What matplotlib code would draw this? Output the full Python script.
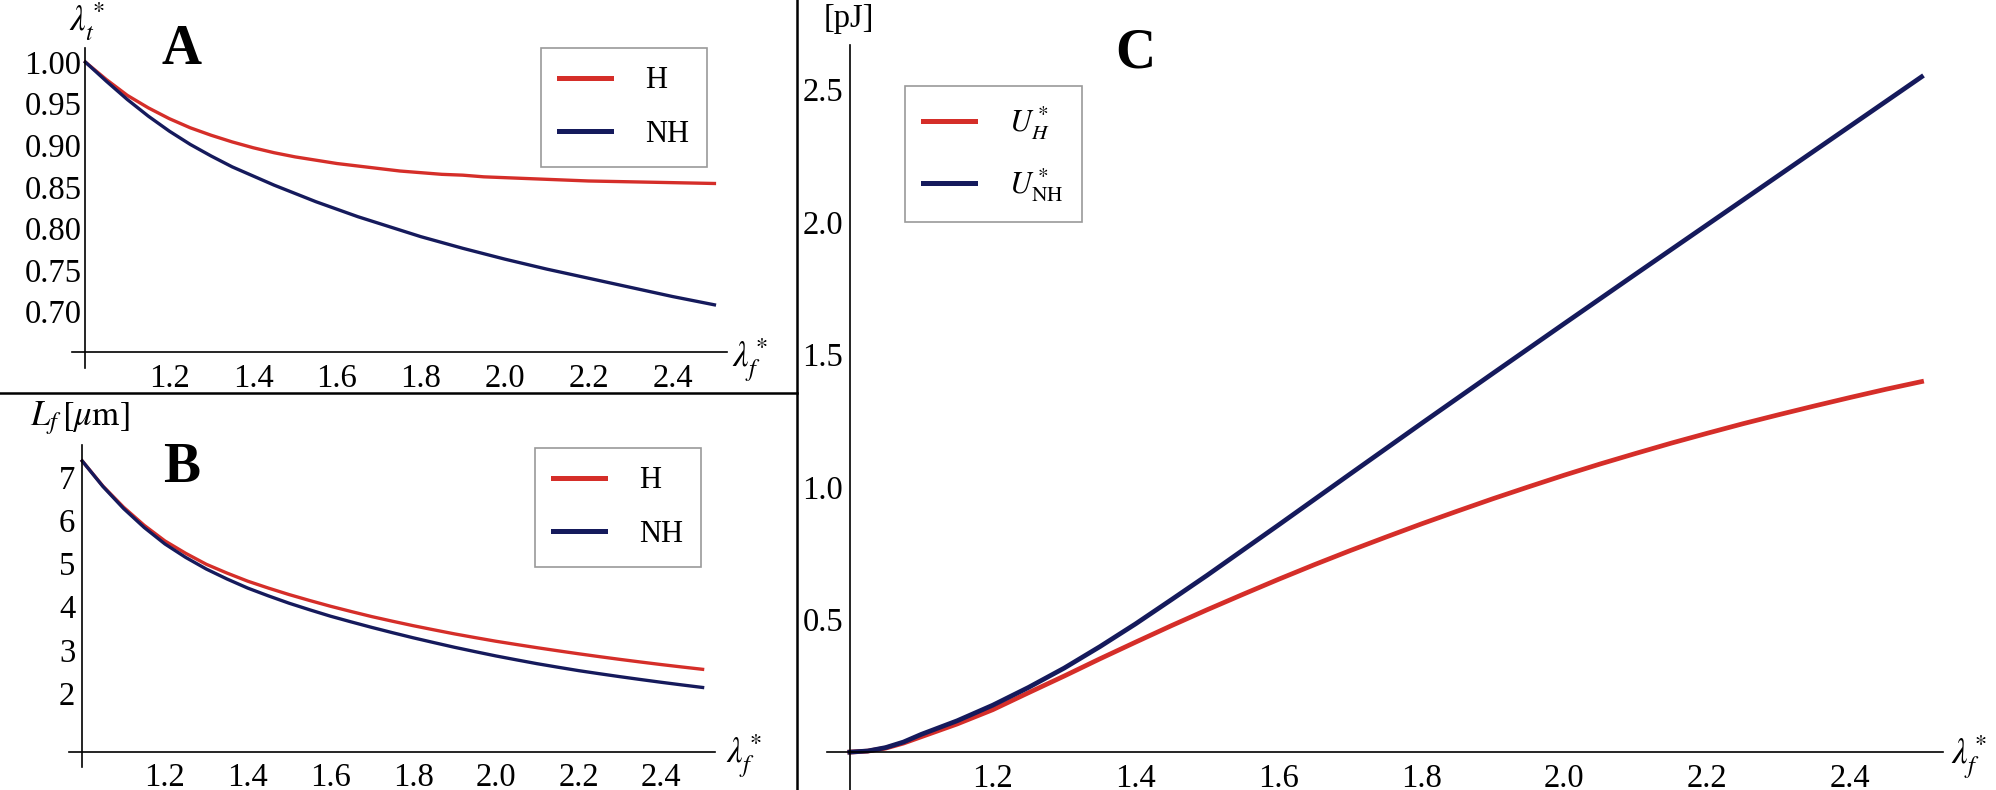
import matplotlib
matplotlib.use('Agg')
import matplotlib.pyplot as plt
from matplotlib.lines import Line2D

plt.rcParams['font.family'] = ['Liberation Serif', 'DejaVu Serif']
plt.rcParams['mathtext.fontset'] = 'stix'

# values, every 0.05 in lambda_f*
lam = [1.00, 1.05, 1.10, 1.15, 1.20, 1.25, 1.30, 1.35, 1.40, 1.45, 1.50,
       1.55, 1.60, 1.65, 1.70, 1.75, 1.80, 1.85, 1.90, 1.95, 2.00,
       2.05, 2.10, 2.15, 2.20, 2.25, 2.30, 2.35, 2.40, 2.45, 2.50]

# panel A: lambda_t*
lt_H = [1.000, 0.979, 0.960, 0.945, 0.932, 0.921, 0.912, 0.904, 0.897, 0.891, 0.886,
        0.882, 0.878, 0.875, 0.872, 0.869, 0.867, 0.865, 0.864, 0.862, 0.861,
        0.860, 0.859, 0.858, 0.857, 0.8565, 0.856, 0.8555, 0.855, 0.8545, 0.854]
lt_NH = [1.000, 0.977, 0.955, 0.935, 0.917, 0.901, 0.887, 0.874, 0.863, 0.852, 0.842,
         0.832, 0.823, 0.814, 0.806, 0.798, 0.790, 0.783, 0.776, 0.7695, 0.763,
         0.757, 0.751, 0.7455, 0.740, 0.7345, 0.729, 0.7235, 0.718, 0.713, 0.708]

# panel B: L_f [um]
Lf_H = [7.37, 6.79, 6.30, 5.88, 5.52, 5.235, 4.98, 4.777, 4.59, 4.43, 4.28,
        4.142, 4.01, 3.888, 3.77, 3.663, 3.56, 3.464, 3.37, 3.284, 3.20,
        3.124, 3.05, 2.979, 2.91, 2.844, 2.78, 2.719, 2.66, 2.604, 2.55]
Lf_NH = [7.37, 6.78, 6.27, 5.83, 5.45, 5.14, 4.87, 4.64, 4.43, 4.25, 4.08,
         3.927, 3.78, 3.648, 3.52, 3.398, 3.28, 3.169, 3.06, 2.959, 2.86,
         2.769, 2.68, 2.599, 2.52, 2.449, 2.38, 2.314, 2.25, 2.189, 2.13]

# panel C: energy [pJ], denser near the origin where the curves bend
lam_c = [1.00, 1.025, 1.05, 1.075, 1.10, 1.15, 1.20, 1.25, 1.30, 1.35, 1.40, 1.45, 1.50,
         1.55, 1.60, 1.65, 1.70, 1.75, 1.80, 1.85, 1.90, 1.95, 2.00,
         2.05, 2.10, 2.15, 2.20, 2.25, 2.30, 2.35, 2.40, 2.45, 2.50]
U_H = [0.0, 0.0037, 0.015, 0.034, 0.058, 0.106, 0.160, 0.224, 0.287, 0.352, 0.415, 0.477, 0.537,
       0.595, 0.652, 0.707, 0.760, 0.811, 0.861, 0.909, 0.956, 1.001, 1.045,
       1.087, 1.127, 1.166, 1.203, 1.239, 1.273, 1.306, 1.338, 1.369, 1.398]
U_NH = [0.0, 0.0042, 0.017, 0.038, 0.067, 0.118, 0.177, 0.244, 0.317, 0.398, 0.484, 0.575, 0.667,
        0.762, 0.857, 0.953, 1.049, 1.1445, 1.240, 1.3345, 1.429, 1.523, 1.617,
        1.7105, 1.804, 1.897, 1.990, 2.083, 2.176, 2.269, 2.362, 2.455, 2.548]

x_ticks = [1.2, 1.4, 1.6, 1.8, 2.0, 2.2, 2.4]
x_labels = ['1.2', '1.4', '1.6', '1.8', '2.0', '2.2', '2.4']
a_ticks = [0.70, 0.75, 0.80, 0.85, 0.90, 0.95, 1.00]
a_labels = ['0.70', '0.75', '0.80', '0.85', '0.90', '0.95', '1.00']
b_ticks = [2, 3, 4, 5, 6, 7]
b_labels = ['2', '3', '4', '5', '6', '7']
c_ticks = [0.5, 1.0, 1.5, 2.0, 2.5]
c_labels = ['0.5', '1.0', '1.5', '2.0', '2.5']

RED = '#d52e29'
NAVY = '#151a5c'
FS = 23.5

W, H = 1996, 790


def fx(px):
    return px / W


def fy(py):
    return 1 - py / H


def rect(l, t, r, b):
    return [l / W, 1 - b / H, (r - l) / W, (b - t) / H]


def setup(ax, ylim, y0, yticks, ylabels, ypad):
    ax.set_xlim(0.968, 2.53)
    ax.set_ylim(ylim)
    for s in ['top', 'right']:
        ax.spines[s].set_visible(False)
    ax.spines['left'].set_position(('data', 1.0))
    ax.spines['bottom'].set_position(('data', y0))
    ax.spines['left'].set_linewidth(1.2)
    ax.spines['bottom'].set_linewidth(1.2)
    ax.set_xticks(x_ticks)
    ax.set_xticklabels(x_labels)
    ax.set_yticks(yticks)
    ax.set_yticklabels(ylabels)
    ax.tick_params(axis='x', length=0, pad=8, labelsize=FS)
    ax.tick_params(axis='y', length=0, pad=ypad, labelsize=FS)
    ax.patch.set_alpha(0)


def legend(ax, left, top, labels):
    leg = ax.legend(labels, loc='upper left', bbox_to_anchor=(fx(left), fy(top)),
                    bbox_transform=fig.transFigure, borderaxespad=0, fancybox=False,
                    edgecolor='#9a9a9a', framealpha=1, fontsize=FS - 1.5, handlelength=1.7,
                    handletextpad=1.1, labelspacing=0.8, borderpad=0.6)
    leg.get_frame().set_linewidth(1.2)
    for h in leg.get_lines():
        h.set_linewidth(3.6)


fig = plt.figure(figsize=(19.96, 7.9), dpi=100)

# A
axA = fig.add_axes(rect(72, 48, 727, 368))
axA.plot(lam, lt_H, color=RED, lw=2.4)
axA.plot(lam, lt_NH, color=NAVY, lw=2.4)
setup(axA, (0.632, 1.017), 0.651, a_ticks, a_labels, 3)
legend(axA, 541, 48, ['H', 'NH'])
fig.text(fx(87), fy(22), r'$\lambda_t^*$', ha='center', va='center', fontsize=25)
fig.text(fx(750), fy(360), r'$\lambda_f^*$', ha='center', va='center', fontsize=25)
fig.text(fx(182), fy(50), 'A', ha='center', va='center', fontsize=40, fontweight='bold')

# B
axB = fig.add_axes(rect(69, 445, 715, 767))
axB.plot(lam, Lf_H, color=RED, lw=2.4)
axB.plot(lam, Lf_NH, color=NAVY, lw=2.4)
setup(axB, (0.29, 7.74), 0.64, b_ticks, b_labels, 5)
legend(axB, 535, 448, ['H', 'NH'])
fig.text(fx(80), fy(418), r'$L_f\,[\mu\mathrm{m}]$', ha='center', va='center', fontsize=25)
fig.text(fx(744), fy(756), r'$\lambda_f^*$', ha='center', va='center', fontsize=25)
fig.text(fx(182), fy(468), 'B', ha='center', va='center', fontsize=40, fontweight='bold')

# C
axC = fig.add_axes(rect(827, 45, 1943, 790))
axC.plot(lam_c, U_H, color=RED, lw=3.4)
axC.plot(lam_c, U_NH, color=NAVY, lw=3.4)
setup(axC, (-0.143, 2.668), 0.0, c_ticks, c_labels, 5)
legend(axC, 905, 86, [r'$U_H^*$', r'$U_{\mathrm{NH}}^*$'])
fig.text(fx(849), fy(19), '[pJ]', ha='center', va='center', fontsize=FS)
fig.text(fx(1969), fy(757), r'$\lambda_f^*$', ha='center', va='center', fontsize=25)
fig.text(fx(1135), fy(53), 'C', ha='center', va='center', fontsize=40, fontweight='bold')

# panel dividers
fig.add_artist(Line2D([fx(797), fx(797)], [0, 1], color='black', lw=1.8))
fig.add_artist(Line2D([0, fx(797)], [fy(393), fy(393)], color='black', lw=1.8))

fig.savefig('out.png', dpi=100, facecolor='white')
